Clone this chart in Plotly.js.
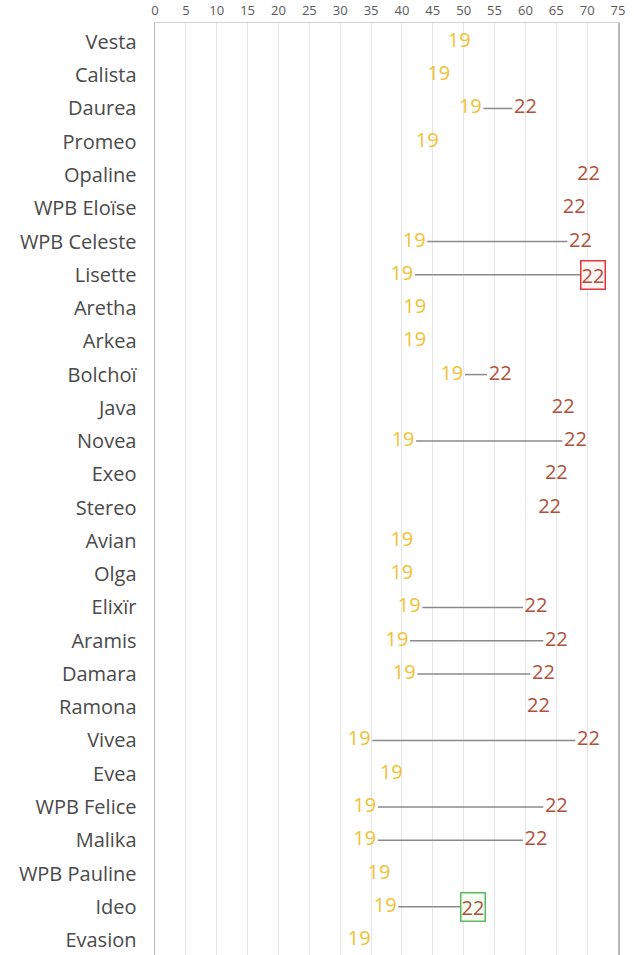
<!DOCTYPE html>
<html>
<head>
<meta charset="utf-8">
<script src="https://cdn.plot.ly/plotly-3.0.1.min.js"></script>
<style>html,body{margin:0;padding:0;background:#fff;overflow:hidden}</style>
</head>
<body>
<div id="chart" style="width:634px;height:955px"></div>
<script>
const categories = ["Vesta","Calista","Daurea","Promeo","Opaline","WPB Eloïse","WPB Celeste","Lisette","Aretha","Arkea","Bolchoï","Java","Novea","Exeo","Stereo","Avian","Olga","Elixïr","Aramis","Damara","Ramona","Vivea","Evea","WPB Felice","Malika","WPB Pauline","Ideo","Evasion"];
const values2019 = [51.4,48.1,53.2,46.2,null,null,44.1,42.1,44.2,44.2,50.2,null,42.3,null,null,42.1,42.1,43.3,41.3,42.5,null,35.2,40.4,36.1,36.1,38.4,39.4,35.2];
const values2022 = [null,null,57.9,null,68.1,65.8,66.8,68.9,null,null,53.8,64.0,66.0,62.9,61.8,null,null,59.6,62.9,60.8,60.0,68.1,null,62.9,59.6,null,49.4,null];
const label2019 = "19";
const label2022 = "22";
const xTicks = [0,5,10,15,20,25,30,35,40,45,50,55,60,65,70,75];
const highlightRed = ["Lisette"];
const highlightGreen = ["Ideo"];

const FONT = "Open Sans, sans-serif";
const C19 = "#f0c233";
const C22 = "#b0503a";

// connector lines
const lx = [], ly = [];
categories.forEach((c, i) => {
  if (values2019[i] != null && values2022[i] != null) {
    lx.push(values2019[i], values2022[i], null);
    ly.push(c, c, null);
  }
});

const isHL = c => highlightRed.includes(c) || highlightGreen.includes(c);

const traces = [
  {type:"scatter", mode:"lines", x:lx, y:ly, line:{color:"#8a8a8a", width:1.5}, hoverinfo:"skip", showlegend:false},
  {type:"scatter", mode:"markers+text", x:values2019, y:categories,
   text:categories.map(()=>label2019), textposition:"middle left",
   textfont:{family:FONT, size:20, color:C19},
   marker:{size:1, opacity:0}, showlegend:false, cliponaxis:false},
  {type:"scatter", mode:"markers+text", x:values2022, y:categories,
   text:categories.map(c=>isHL(c) ? "" : label2022), textposition:"middle right",
   textfont:{family:FONT, size:20, color:C22},
   marker:{size:1, opacity:0}, showlegend:false, cliponaxis:false}
];

const annotations = [];
categories.forEach((c, i) => {
  if (isHL(c) && values2022[i] != null) {
    const red = highlightRed.includes(c);
    annotations.push({
      x: values2022[i], y: c, xref:"x", yref:"y",
      text: label2022, showarrow:false, xanchor:"left", yanchor:"middle",
      font:{family:FONT, size:20, color:C22},
      bordercolor: red ? "#e0353a" : "#5cb85c", borderwidth:1.5, borderpad:0,
      bgcolor: red ? "#fff5f5" : "#f6fff4"
    });
  }
});

const layout = {
  width:634, height:955,
  margin:{l:155, r:16, t:23, b:0, pad:0},
  paper_bgcolor:"#fff", plot_bgcolor:"#fff",
  font:{family:FONT, color:"#4a4a4a"},
  showlegend:false,
  xaxis:{side:"top", range:[0,75], tickvals:xTicks, ticktext:xTicks.map(String),
    showgrid:true, gridcolor:"#e6e6e6", gridwidth:1, zeroline:false,
    showline:true, mirror:true, linecolor:"#d0d0d0", linewidth:1,
    ticks:"", tickfont:{family:FONT, size:13, color:"#595959"}, ticklabelstandoff:2, fixedrange:true},
  yaxis:{type:"category", categoryorder:"array", categoryarray:categories,
    range:[27.45,-0.57], showgrid:false, zeroline:false,
    showline:true, mirror:true, linecolor:"#b8b8b8", linewidth:1.5,
    ticks:"", tickfont:{family:FONT, size:20, color:"#4a4a4a"},
    ticklabelstandoff:13, fixedrange:true},
  annotations:annotations
};

Plotly.newPlot("chart", traces, layout, {displayModeBar:false, staticPlot:true});
</script>
</body>
</html>
